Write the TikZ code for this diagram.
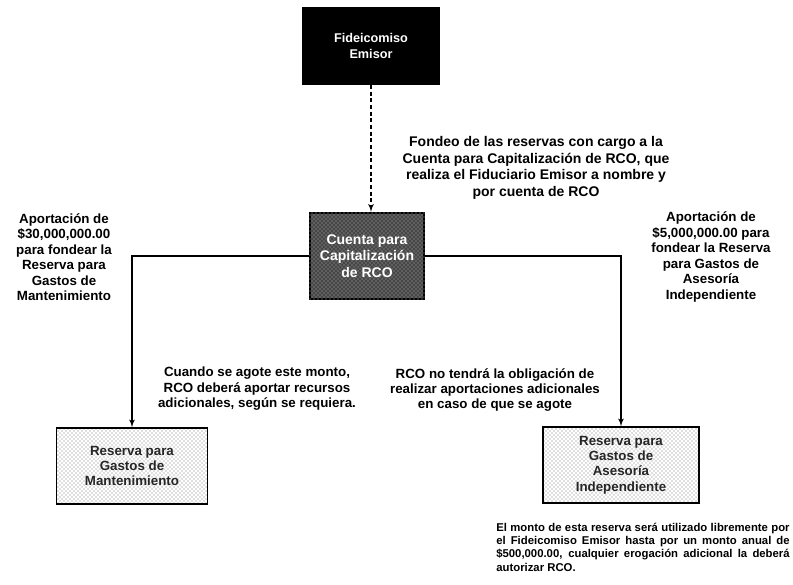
\documentclass[tikz,border=0pt]{standalone}
\usepackage{fontspec}
\setmainfont{Liberation Sans}
\usetikzlibrary{arrows,positioning,patterns}
\tikzstyle{trust} = [rectangle, minimum width=104pt, minimum height=58pt, text centered, align=center, fill=black, text=white, font=\bfseries\fontsize{9.5}{12}\selectfont]
\tikzstyle{account} = [rectangle, minimum width=86pt, minimum height=65pt, align=center, draw=black, line width=1.3pt, fill=black!72, text=white, font=\bfseries\fontsize{10.5}{12.5}\selectfont, postaction={pattern=crosshatch dots, pattern color=black!30}]
\tikzstyle{reserve} = [rectangle, minimum width=113pt, minimum height=57pt, align=center, draw=black, line width=1pt, pattern=crosshatch dots, pattern color=black!55, text=black!85, font=\bfseries\fontsize{10}{11.5}\selectfont]
\tikzstyle{note} = [align=center, font=\bfseries\fontsize{10}{11.6}\selectfont]
\tikzstyle{line} = [draw, line width=1pt, -latex']

\begin{document}
\begin{tikzpicture}[x=0.75pt,y=-0.75pt]
  \useasboundingbox (0,0) rectangle (793,585);
  % boxes
  \node (emisor) [trust] at (371,46) {Fideicomiso\\Emisor};
  \node (cuenta) [account] at (367,256) {Cuenta para\\Capitalización\\de RCO};
  \node (mant) [reserve] at (132,466) {Reserva para\\Gastos de\\Mantenimiento};
  \node (asesoria) [reserve, minimum width=117pt] at (621,465) {Reserva para\\Gastos de\\Asesoría\\Independiente};
  % connectors
  \draw [line, densely dashed] (emisor) -- (emisor.south |- cuenta.north);
  \path [line] (cuenta.west) -| (mant.north);
  \path [line] (cuenta.east) -| (asesoria.north);
  % texts
  \node (fondeo) [note, font=\bfseries\fontsize{10.5}{12.4}\selectfont] at (536,168) {Fondeo de las reservas con cargo a la\\Cuenta para Capitalización de RCO, que\\realiza el Fiduciario Emisor a nombre y\\por cuenta de RCO};
  \node (aportIzq) [note] at (64,257) {Aportación de\\\$30,000,000.00\\para fondear la\\Reserva para\\Gastos de\\Mantenimiento};
  \node (aportDer) [note] at (711,257) {Aportación de\\\$5,000,000.00 para\\fondear la Reserva\\para Gastos de\\Asesoría\\Independiente};
  \node (agoteIzq) [note] at (257,389) {Cuando se agote este monto,\\RCO deberá aportar recursos\\adicionales, según se requiera.};
  \node (agoteDer) [note] at (495,390) {RCO no tendrá la obligación de\\realizar aportaciones adicionales\\en caso de que se agote};
  \node (nota) [note, text width=220pt, align=justify, font=\bfseries\fontsize{8.5}{10}\selectfont] at (643,547) {El monto de esta reserva será utilizado libremente por el Fideicomiso Emisor hasta por un monto anual de \$500,000.00, cualquier erogación adicional la deberá autorizar RCO.};
\end{tikzpicture}
\end{document}
